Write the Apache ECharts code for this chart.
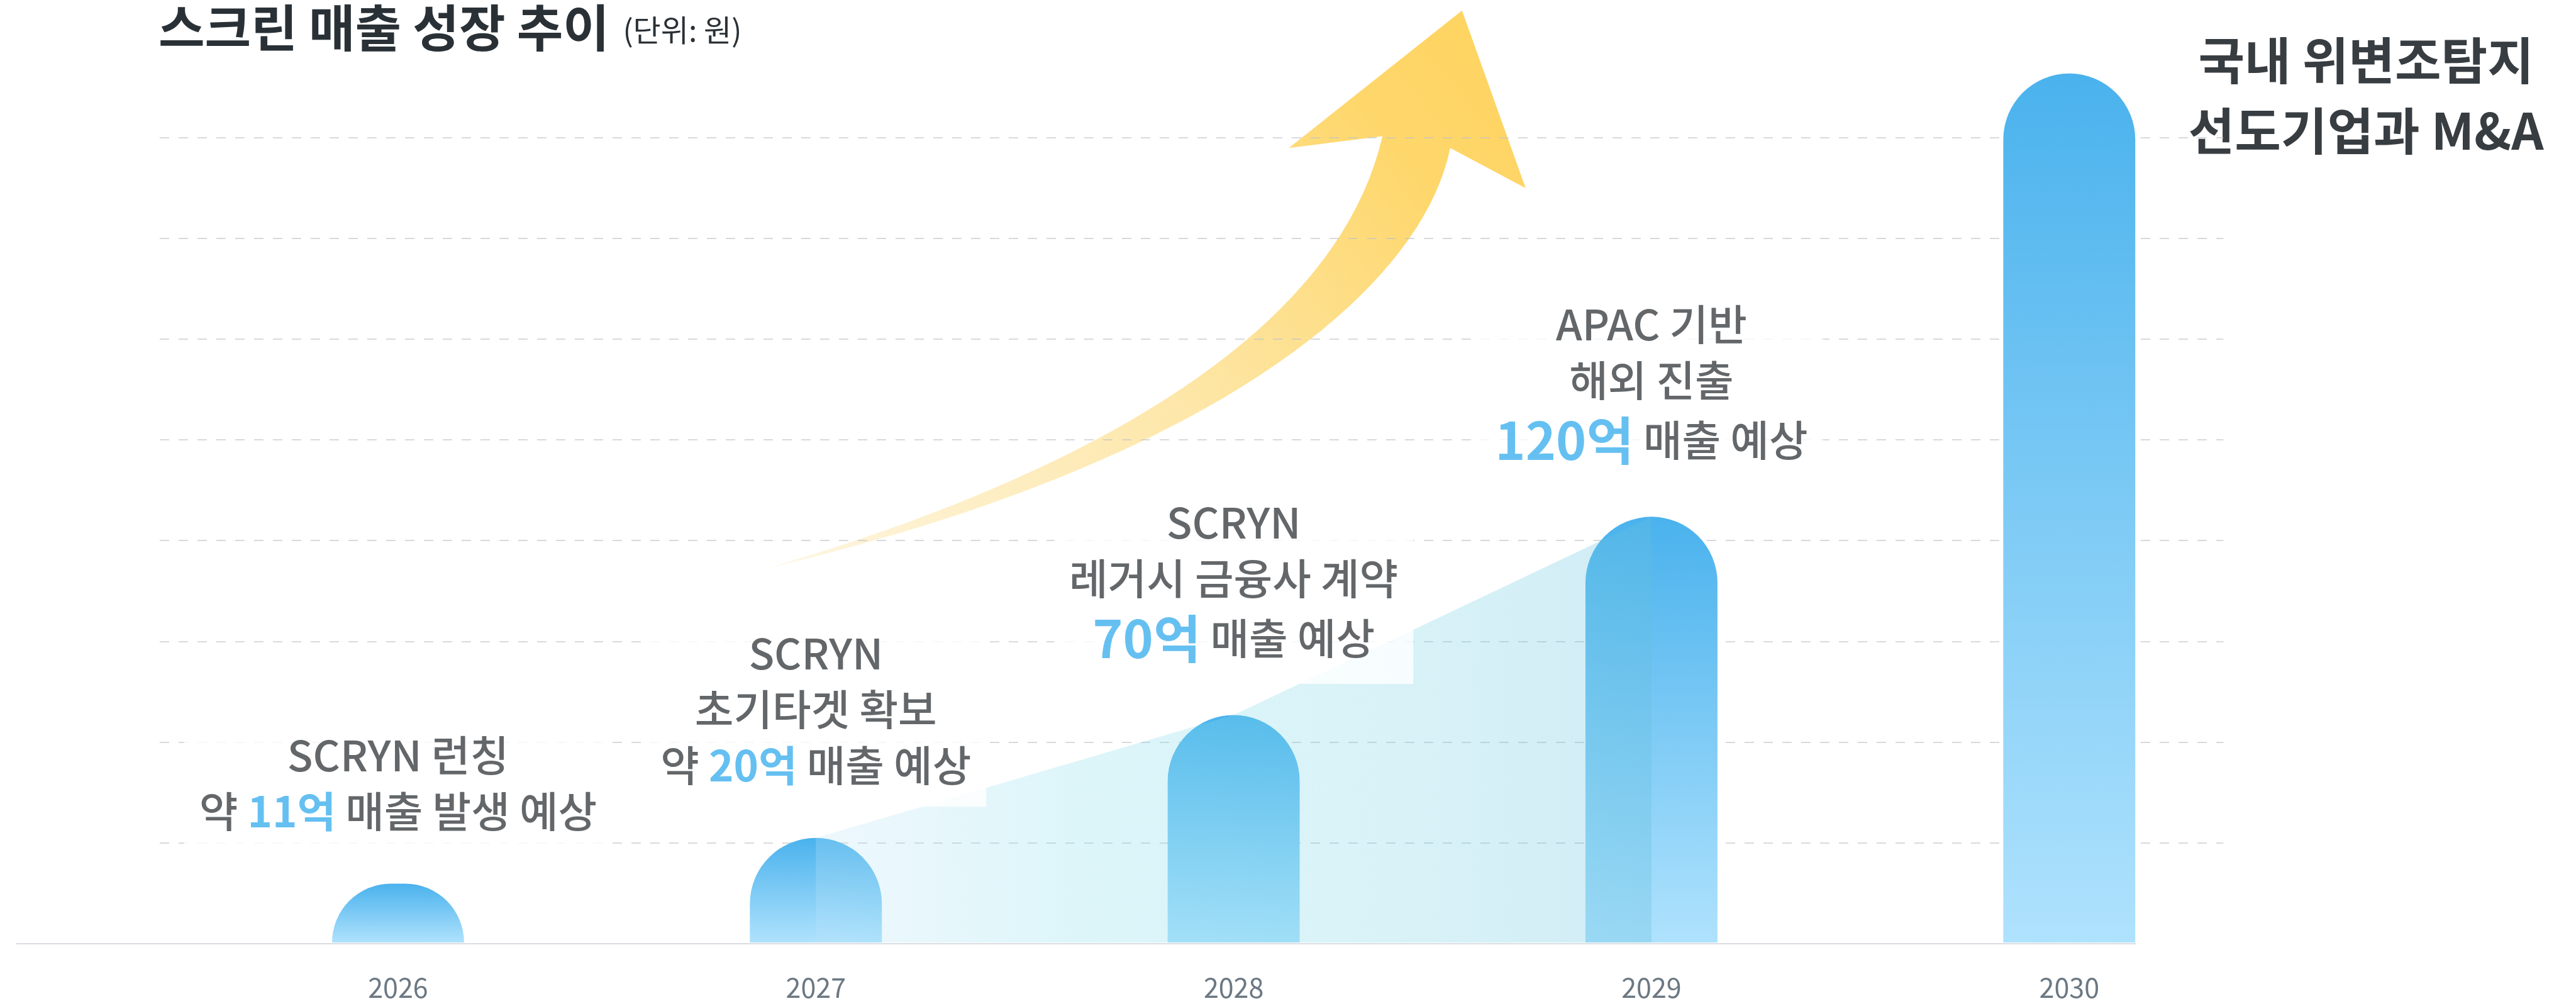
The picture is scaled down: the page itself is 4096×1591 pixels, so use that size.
<!DOCTYPE html>
<html>
<head>
<meta charset="utf-8">
<title>스크린 매출 성장 추이</title>
<script src="https://cdn.jsdelivr.net/npm/echarts@6/dist/echarts.min.js"></script>
<style>
  html, body { margin: 0; padding: 0; background: #fff; }
  #chart { width: 4096px; height: 1591px; }
</style>
</head>
<body>
<div id="chart"></div>
<script>
// 데이터 (값은 그림에서 읽은 추정치, 격자 한 칸 = 20)
const years = ['2026', '2027', '2028', '2029', '2030'];
const revenue = [11.7, 20.8, 45.2, 84.6, 172.7];
const trend = [null, 20.8, 45.2, 84.6, null];
const noteHead = [['SCRYN 런칭'], ['SCRYN', '초기타겟 확보'], ['SCRYN', '레거시 금융사 계약'], ['APAC 기반', '해외 진출'], []];
const notePrefix = ['약 ', '약 ', '', '', ''];
const noteAmount = ['11억', '20억', '70억', '120억', ''];
const noteSuffix = [' 매출 발생 예상', ' 매출 예상', ' 매출 예상', ' 매출 예상', ''];
const noteBig = [false, false, true, true, false];

const S = 0.937; // 원본 대비 배율
const FONT = '"Noto Sans CJK KR", "Noto Sans", sans-serif';
const W = 4096, H = 1591;
const chart = echarts.init(document.getElementById('chart'));

const top160 = 233 * S;
const bottom0 = H - 1601 * S;

function noteText(i) {
  const lines = noteHead[i].map(function (t) { return '{t|' + t + '}'; });
  const key = noteBig[i] ? 'big' : 'num';
  lines.push((notePrefix[i] ? '{t|' + notePrefix[i] + '}' : '') +
    '{' + key + '|' + noteAmount[i] + '}{t|' + noteSuffix[i] + '}');
  return lines.join('\n');
}

// 장식용 화살표 (원본 픽셀 기준 좌표 -> 배율 적용)
function cubic(p0, p1, p2, p3, n) {
  const pts = [];
  for (let k = 0; k <= n; k++) {
    const t = k / n, u = 1 - t;
    pts.push([
      (u * u * u * p0[0] + 3 * u * u * t * p1[0] + 3 * u * t * t * p2[0] + t * t * t * p3[0]) * S,
      (u * u * u * p0[1] + 3 * u * u * t * p1[1] + 3 * u * t * t * p2[1] + t * t * t * p3[1]) * S
    ]);
  }
  return pts;
}
const lowerEdge = cubic([1305, 963], [2040, 790], [2410, 500], [2461, 251], 40);
const upperEdge = cubic([2346, 231], [2270, 560], [1860, 800], [1305, 963], 40);
const arrowPts = lowerEdge
  .concat([[2589 * S, 319 * S], [2481 * S, 18 * S], [2187 * S, 251 * S]])
  .concat(upperEdge.slice(0, -1));

const option = {
  backgroundColor: '#fff',
  animation: false,
  title: {
    text: '{a|스크린 매출 성장 추이}{b|  (단위: 원)}',
    left: 252,
    top: 0,
    padding: 0,
    textStyle: {
      rich: {
        a: { fontSize: 80, fontWeight: 'bold', color: '#2a3136', lineHeight: 88, fontFamily: FONT },
        b: { fontSize: 48, fontWeight: 'normal', color: '#2a3136', lineHeight: 88, fontFamily: FONT, padding: [8, 0, 0, 0] }
      }
    }
  },
  graphic: [
    {
      type: 'polygon',
      z: 0,
      silent: true,
      shape: { points: arrowPts },
      style: {
        fill: {
          type: 'linear', x: 0, y: 1, x2: 0.9, y2: 0,
          colorStops: [
            { offset: 0, color: '#fef6e2' },
            { offset: 0.5, color: '#fde6a6' },
            { offset: 0.85, color: '#fed76c' },
            { offset: 1, color: '#fed462' }
          ]
        }
      }
    },
    {
      type: 'text',
      silent: true,
      style: {
        text: '국내 위변조탐지\n선도기업과 M&A',
        x: 4015 * S,
        y: 95.6 - 56,
        align: 'center',
        verticalAlign: 'top',
        lineHeight: 112,
        fontSize: 80,
        fontWeight: 'bold',
        fontFamily: FONT,
        fill: '#383d42'
      }
    }
  ],
  grid: [
    { left: 321 * S, right: W - 3866 * S, top: top160, bottom: bottom0 },
    { left: 271 * S, right: W - 3773 * S, top: top160, bottom: H - 1430 * S },
    { left: 28 * S, right: W - 3624 * S, top: top160, bottom: bottom0 }
  ],
  xAxis: [
    {
      gridIndex: 0,
      type: 'category',
      data: years,
      axisLine: { show: false },
      axisTick: { show: false },
      axisLabel: { margin: 50, fontSize: 43, color: '#6b7883', fontFamily: FONT }
    },
    { gridIndex: 1, type: 'value', show: false },
    {
      gridIndex: 2,
      type: 'value',
      z: 3,
      axisLine: { show: true, lineStyle: { color: '#d9dde2', width: 2 } },
      axisTick: { show: false },
      axisLabel: { show: false },
      splitLine: { show: false }
    }
  ],
  yAxis: [
    { gridIndex: 0, type: 'value', min: 0, max: 160, interval: 20, show: false },
    {
      gridIndex: 1,
      type: 'value',
      min: 20,
      max: 160,
      interval: 20,
      z: 1,
      axisLine: { show: false },
      axisTick: { show: false },
      axisLabel: { show: false },
      splitLine: { show: true, lineStyle: { type: [15, 15], color: 'rgba(190,195,200,0.62)', width: 2 } }
    },
    { gridIndex: 2, type: 'value', min: 0, max: 160, show: false }
  ],
  series: [
    {
      type: 'bar',
      xAxisIndex: 0,
      yAxisIndex: 0,
      data: revenue,
      barWidth: 224 * S,
      clip: false,
      z: 2,
      silent: true,
      itemStyle: {
        borderRadius: [112 * S, 112 * S, 0, 0],
        color: {
          type: 'linear', x: 0, y: 0, x2: 0, y2: 1,
          colorStops: [
            { offset: 0, color: '#4ab2ed' },
            { offset: 1, color: '#afe2fd' }
          ]
        }
      }
    },
    {
      type: 'line',
      xAxisIndex: 0,
      yAxisIndex: 0,
      data: trend,
      z: 3,
      silent: true,
      symbol: 'none',
      lineStyle: { width: 0 },
      areaStyle: {
        opacity: 1,
        color: {
          type: 'linear', x: 0, y: 0, x2: 1, y2: 0,
          colorStops: [
            { offset: 0, color: 'rgba(190,228,247,0.26)' },
            { offset: 0.3, color: 'rgba(134,221,236,0.28)' },
            { offset: 0.7, color: 'rgba(115,210,228,0.28)' },
            { offset: 1, color: 'rgba(100,190,220,0.3)' }
          ]
        }
      }
    },
    {
      type: 'scatter',
      xAxisIndex: 0,
      yAxisIndex: 0,
      z: 5,
      silent: true,
      symbolSize: 1,
      itemStyle: { color: 'rgba(0,0,0,0)' },
      data: revenue.map(function (v, i) {
        return { value: v, label: { show: noteAmount[i] !== '', formatter: noteText(i) } };
      }),
      label: {
        position: 'top',
        distance: 49,
        align: 'center',
        backgroundColor: '#fff',
        padding: [20, 24, 21, 24],
        rich: {
          t: { fontSize: 67, lineHeight: 89, color: '#3c4145', fontWeight: 500, fontFamily: FONT },
          num: { fontSize: 67, lineHeight: 89, color: '#3fb0ee', fontWeight: 'bold', fontFamily: FONT },
          big: { fontSize: 82, lineHeight: 102, color: '#3fb0ee', fontWeight: 'bold', fontFamily: FONT }
        }
      }
    }
  ]
};

chart.setOption(option);
window.addEventListener('resize', function () { chart.resize(); });
</script>
</body>
</html>
